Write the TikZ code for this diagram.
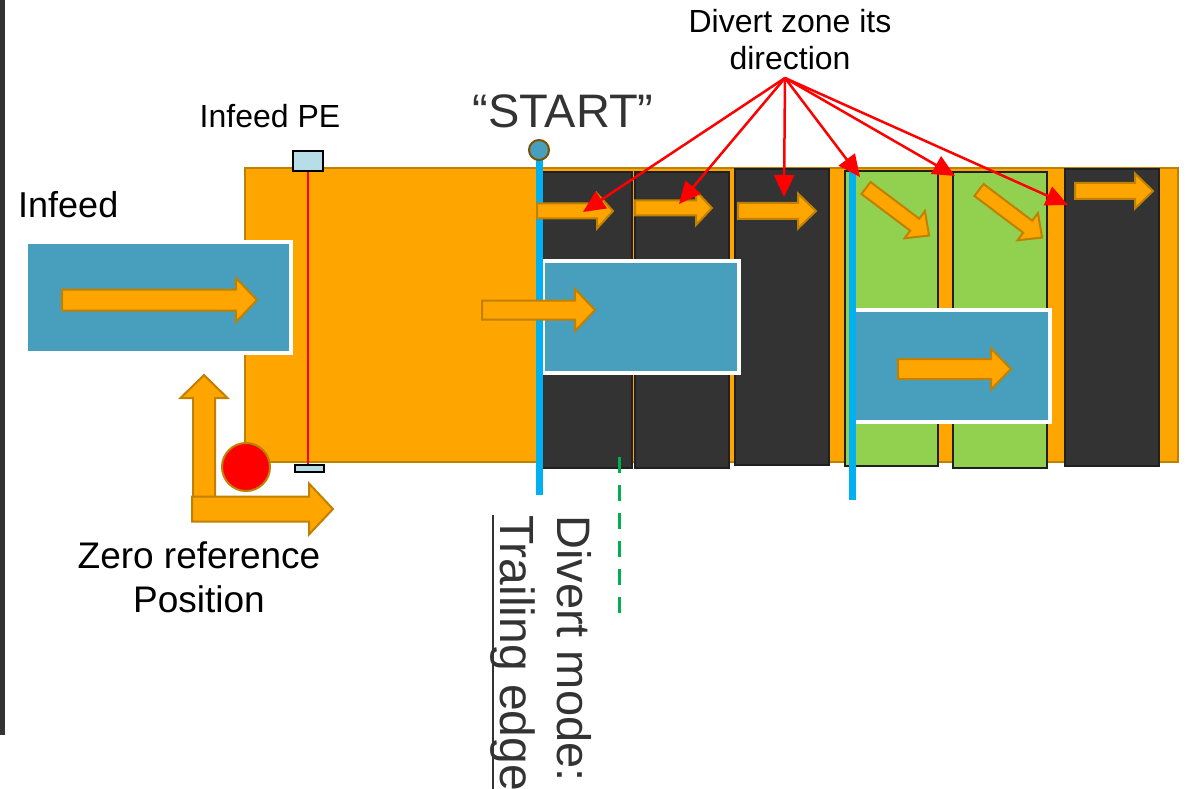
\documentclass[tikz,border=0pt]{standalone}
\usepackage{fontspec}
\setmainfont{Liberation Sans}
\usetikzlibrary{arrows.meta}
\definecolor{cOrange}{HTML}{FFA500}
\definecolor{cOrangeEdge}{HTML}{C08000}
\definecolor{cDark}{HTML}{333333}
\definecolor{cDarkEdge}{HTML}{202020}
\definecolor{cGreen}{HTML}{92D050}
\definecolor{cBlue}{HTML}{479FBD}
\definecolor{cLine}{HTML}{00B0F0}
\definecolor{cSensor}{HTML}{B7DEE8}
\definecolor{cDash}{HTML}{00B050}
\definecolor{cText}{HTML}{333333}
\definecolor{cCircEdge}{HTML}{7A5200}
\tikzset{
  orangebody/.style={fill=cOrange, draw=cOrangeEdge, line width=2pt},
  darkzone/.style={fill=cDark, draw=cDarkEdge, line width=1.5pt},
  greenzone/.style={fill=cGreen, draw=cDarkEdge, line width=2pt},
  bluebox/.style={fill=cBlue, draw=white, line width=3.5pt},
  blueline/.style={draw=cLine, line width=7pt},
  sensorbox/.style={fill=cSensor, draw=black, line width=1.5pt},
  redarr/.style={draw=red, line width=2.5pt, -{Triangle[length=22pt,width=20pt]}},
  barrowstyle/.style={fill=cOrange, draw=cOrangeEdge, line width=2pt, line join=miter},
  lbl/.style={inner sep=0pt, text=black},
  pics/barrow/.style n args={4}{code={
    \draw[barrowstyle] (0,-#2) -- (#1-#4,-#2) -- (#1-#4,-#3) -- (#1,0) -- (#1-#4,#3) -- (#1-#4,#2) -- (0,#2) -- cycle;
  }}
}
\begin{document}
\begin{tikzpicture}[x=1pt,y=-1pt]
\useasboundingbox (0,0) rectangle (1187,789);
% left edge bar
\fill[cDark] (0,0) rectangle (5,735);

% conveyor body
\path[orangebody] (245,168) rectangle (1178,462);

% infeed box
\path[bluebox] (26,242) rectangle (291,353);
\pic at (62,300) {barrow={195}{10.5}{22}{21}};

% zones
\path[darkzone] (541,172) rectangle (632,468);
\path[darkzone] (635,172) rectangle (729,468);
\path[darkzone] (735,169) rectangle (829,465);
\path[greenzone] (845,171) rectangle (938,466);
\path[greenzone] (953,172) rectangle (1047,468);
\path[darkzone] (1065,169) rectangle (1159,466);

% infeed PE
\draw[red, line width=2pt] (308,171) -- (308,465);
\path[sensorbox] (293,151) rectangle (323,171);
\path[sensorbox] (295,465) rectangle (324,472);

% moving boxes
\path[bluebox] (543,261) rectangle (739,373);
\path[bluebox] (854,310) rectangle (1050,422);

% start / divert lines
\draw[blueline] (539,158) -- (539,495);
\draw[fill=cBlue, draw=cCircEdge, line width=2pt] (539,150) circle[radius=10pt];
\draw[blueline] (852,164) -- (852,500);

% green dashed line
\draw[cDash, line width=3pt, dash pattern=on 16pt off 12pt] (619,457) -- (619,613);

% direction arrows
\pic at (482,310) {barrow={113}{9.5}{21}{20}};
\pic at (537,211) {barrow={76}{7.5}{17.5}{16}};
\pic at (635,208) {barrow={77}{7.5}{17}{16}};
\pic at (738,211) {barrow={78}{8}{17.5}{18}};
\pic[rotate=-37] at (866,188) {barrow={79}{7.5}{17}{18}};
\pic[rotate=-37] at (979,190) {barrow={79}{7.5}{17}{18}};
\pic at (1075,191) {barrow={78}{8}{17.5}{18}};
\pic at (898,369) {barrow={113}{10}{20.5}{20}};

% zero reference
\pic[rotate=90] at (204,509) {barrow={134}{11}{23.5}{23}};
\pic at (192,509) {barrow={141}{12.5}{25.5}{24}};
\draw[fill=red, draw=cOrangeEdge, line width=2pt] (246,467) circle[radius=24pt];

% texts
\node[lbl, font=\fontsize{36}{43}\selectfont, anchor=base west] (infeed) at (18,218) {Infeed};
\node[lbl, font=\fontsize{32}{38}\selectfont, anchor=base] (pe) at (270,128) {Infeed PE};
\node[lbl, text=cText, font=\fontsize{47}{56}\selectfont, anchor=base] (start) at (563,128) {“START”};
\node[lbl, font=\fontsize{32}{38}\selectfont, anchor=base] (dz1) at (790,33) {Divert zone its};
\node[lbl, font=\fontsize{32}{38}\selectfont, anchor=base] (dz2) at (790,70) {direction};
\node[lbl, font=\fontsize{37}{44}\selectfont, anchor=base] (zr1) at (199,568) {Zero reference};
\node[lbl, font=\fontsize{37}{44}\selectfont, anchor=base] (zr2) at (199,612) {Position};
\node[lbl, text=cText, font=\fontsize{47}{56}\selectfont, rotate=-90, anchor=base west] (dm) at (557,515) {Divert mode:};
\node[lbl, text=cText, font=\fontsize{48}{56}\selectfont, rotate=-90, anchor=base west] (te) at (500,515) {Trailing edge};
\draw[cText, line width=2pt] ([xshift=-7pt]te.base west) -- ([xshift=-7pt]te.base east);

% red pointer arrows
\coordinate (src) at (785,78);
\coordinate (t1) at (583,212);
\coordinate (t2) at (679,204);
\coordinate (t3) at (784,197);
\coordinate (t4) at (860,177);
\coordinate (t5) at (955,176);
\coordinate (t6) at (1068,205);
\foreach \t in {t1,t2,t3,t4,t5,t6} \draw[redarr] (src) -- (\t);
\end{tikzpicture}
\end{document}
